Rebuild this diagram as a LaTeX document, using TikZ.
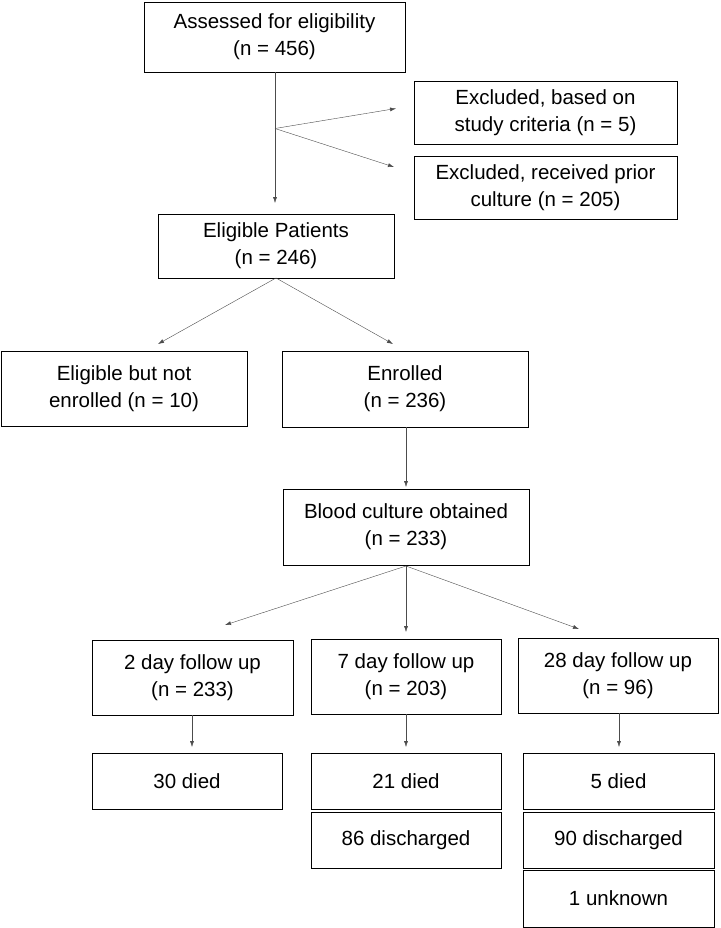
\documentclass[tikz,border=0pt]{standalone}
\usepackage{fontspec}
\setmainfont{Liberation Sans}
\usetikzlibrary{arrows.meta}
\begin{document}
\begin{tikzpicture}[x=1pt, y=-1pt, >={Latex[length=6pt,width=4pt]},
  box/.style={draw, thick, align=center, font=\fontsize{20.5}{27}\selectfont, inner sep=0pt},
  flow/.style={->, gray!60!black, thin}]
 \useasboundingbox (0,0) rectangle (720,928);
 % boxes: name, center, width, height, text
 \foreach \name/\cx/\cy/\w/\h/\txt in {
   assessed/274.5/37/261/70/{Assessed for eligibility\\(n = 456)},
   exstudy/545.5/112.5/263/63/{Excluded, based on\\study criteria (n = 5)},
   exprior/545.5/187.5/263/63/{Excluded, received prior\\culture (n = 205)},
   eligible/276/246/236/64/{Eligible Patients\\(n = 246)},
   notenr/124/388.5/246/75/{Eligible but not\\enrolled (n = 10)},
   enrolled/405/389/246/76/{Enrolled\\(n = 236)},
   blood/406/527/246/76/{Blood culture obtained\\(n = 233)},
   twoday/192.5/677.5/201/75/{2 day follow up\\(n = 233)},
   sevenday/406/676.5/190/75/{7 day follow up\\(n = 203)},
   tweight/618/675.5/200/75/{28 day follow up\\(n = 96)},
   twodied/187/781/190/56/{30 died},
   sevdied/406/781/190/56/{21 died},
   sevdis/406/840/190/56/{86 discharged},
   twedied/618.5/781/191/56/{5 died},
   twedis/618.5/840/191/56/{90 discharged},
   tweunk/618.5/898.5/191/57/{1 unknown}}
  \node [box, minimum width=\w pt, minimum height=\h pt] (\name) at (\cx,\cy) {\txt};
 % connector points
 \coordinate (split) at (275,128.5);
 \draw [flow] (assessed.south -| split) -- (275,203);
 \draw [flow] (split) -- (396,108.5);
 \draw [flow] (split) -- (394,167);
 \coordinate (eldown) at (276,278);
 \draw [flow] (eldown) -- (158,344);
 \draw [flow] (eldown) -- (393,344);
 \draw [flow] (enrolled.south -| 406,0) -- (406,487);
 \coordinate (bldown) at (406,566);
 \draw [flow] (bldown) -- (225,625);
 \draw [flow] (bldown) -- (406,632);
 \draw [flow] (bldown) -- (579,629);
 \draw [flow] (twoday.south -| 192,0) -- (192,747);
 \draw [flow] (sevenday.south -| 406,0) -- (406,747);
 \draw [flow] (tweight.south -| 619,0) -- (619,747);
\end{tikzpicture}
\end{document}
